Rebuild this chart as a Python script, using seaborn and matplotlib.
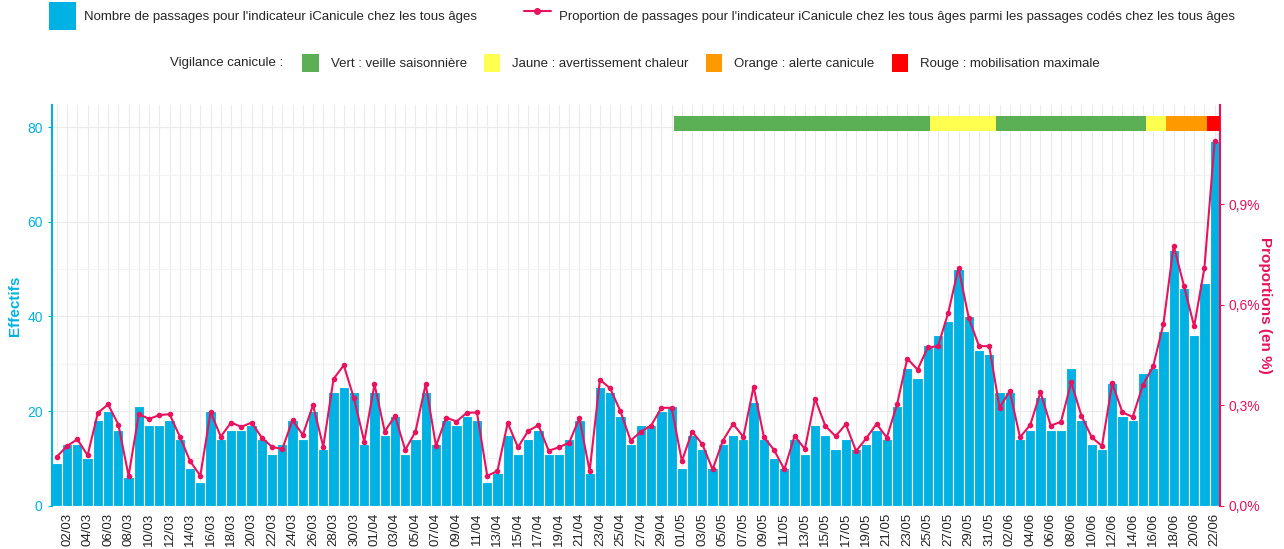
import numpy as np
import pandas as pd
import seaborn as sns
import matplotlib
matplotlib.use("Agg")
import matplotlib.pyplot as plt
from matplotlib.patches import Patch
from matplotlib.lines import Line2D
from matplotlib.ticker import FuncFormatter, MultipleLocator

# --- data
dates = pd.date_range("2025-03-01", "2025-06-22", freq="D")

passages = [
    # mars
    9, 13, 13, 10, 18, 20, 16, 6, 21, 17, 17, 18, 14, 8, 5, 20, 14, 16, 16, 17,
    14, 11, 13, 18, 14, 20, 12, 24, 25, 24, 13,
    # avril
    24, 15, 19, 11, 14, 24, 13, 18, 17, 19, 18, 5, 7, 15, 11, 14, 16, 11, 11, 14,
    18, 7, 25, 24, 19, 13, 17, 17, 20, 21,
    # mai
    8, 15, 12, 8, 13, 15, 14, 22, 14, 10, 8, 14, 11, 17, 15, 12, 14, 12, 13, 16,
    14, 21, 29, 27, 34, 36, 39, 50, 40, 33, 32,
    # juin
    24, 24, 14, 16, 23, 16, 16, 29, 18, 13, 12, 26, 19, 18, 28, 29, 37, 54, 46, 36,
    47, 77,
]

proportions = [
    # mars
    0.146, 0.178, 0.198, 0.150, 0.277, 0.302, 0.242, 0.089, 0.273, 0.259, 0.270,
    0.273, 0.206, 0.133, 0.089, 0.279, 0.206, 0.248, 0.235, 0.248, 0.203, 0.175,
    0.169, 0.255, 0.211, 0.300, 0.176, 0.378, 0.419, 0.320, 0.191,
    # avril
    0.362, 0.221, 0.268, 0.166, 0.221, 0.363, 0.178, 0.263, 0.251, 0.277, 0.278,
    0.089, 0.103, 0.247, 0.174, 0.223, 0.240, 0.164, 0.174, 0.188, 0.261, 0.103,
    0.376, 0.350, 0.282, 0.194, 0.221, 0.239, 0.292, 0.292,
    # mai
    0.133, 0.221, 0.183, 0.108, 0.194, 0.244, 0.205, 0.355, 0.205, 0.166, 0.108,
    0.208, 0.169, 0.319, 0.238, 0.207, 0.243, 0.163, 0.201, 0.244, 0.203, 0.302,
    0.439, 0.406, 0.472, 0.476, 0.576, 0.710, 0.560, 0.476, 0.476,
    # juin
    0.292, 0.342, 0.204, 0.241, 0.338, 0.239, 0.250, 0.368, 0.268, 0.204, 0.178,
    0.365, 0.278, 0.265, 0.360, 0.416, 0.543, 0.776, 0.656, 0.535, 0.710, 1.087,
]

# vigilance canicule : debut de chaque periode (la derniere court jusqu'a la fin)
vig_debut = ["2025-04-30 06:00", "2025-05-25 06:00", "2025-05-31 16:00",
             "2025-06-15 06:00", "2025-06-17 06:00", "2025-06-21 06:00"]
vig_fin = "2025-06-22 12:00"
vig_niveau = ["Vert", "Jaune", "Vert", "Jaune", "Orange", "Rouge"]

vig_couleurs = {"Vert": "#5BB055", "Jaune": "#FFFF4F",
                "Orange": "#FF9900", "Rouge": "#FF0000"}
vig_labels = {"Vert": "Vert : veille saisonnière",
              "Jaune": "Jaune : avertissement chaleur",
              "Orange": "Orange : alerte canicule",
              "Rouge": "Rouge : mobilisation maximale"}

BLEU = "#00B2E3"
ROSE = "#E8125E"
GRILLE = "#EBEBEB"

df = pd.DataFrame({"date": dates, "nb": passages, "prop": proportions})
df["jour"] = df["date"].dt.strftime("%d/%m")
df["pos"] = np.arange(len(df))
n = len(df)

sns.set_style("white")
plt.rcParams["font.family"] = ["Liberation Sans", "DejaVu Sans"]

fig = plt.figure(figsize=(12.84, 5.49), dpi=100)
ax = fig.add_axes([0.0403, 0.079, 0.9097, 0.7297])

sns.barplot(data=df, x="jour", y="nb", color=BLEU, saturation=1,
            edgecolor="white", linewidth=0.8, width=1.0, ax=ax, zorder=2)

ymax = max(passages) * 1.1
pmax = max(proportions) * 1.1
ax.set_ylim(0, ymax)
ax.set_xlim(-0.5, n - 0.5)

ax2 = ax.twinx()
sns.lineplot(data=df, x="pos", y="prop", color=ROSE, linewidth=1.5,
             marker="o", markersize=4, markeredgewidth=0, ax=ax2, zorder=4)
ax2.set_ylim(0, pmax)
ax2.set_xlim(-0.5, n - 0.5)

# bandeau vigilance
bornes = [(pd.Timestamp(d) - dates[0]) / pd.Timedelta(days=1) for d in vig_debut]
bornes.append((pd.Timestamp(vig_fin) - dates[0]) / pd.Timedelta(days=1))
for i, niv in enumerate(vig_niveau):
    ax2.axvspan(bornes[i], min(bornes[i + 1], n - 0.5), ymin=0.935, ymax=0.973,
                color=vig_couleurs[niv], lw=0, zorder=3)

# axe x
ax.set_xticks(range(1, n, 2))
ax.set_xticklabels(df["jour"].iloc[1::2], rotation=90, fontsize=9.5, color="#222222")
ax.set_xticks(range(n), minor=True)
ax.tick_params(axis="x", which="major", length=3, color="#555555", pad=2)
ax.tick_params(axis="x", which="minor", length=0)
ax.set_xlabel("")

# axes y
ax.yaxis.set_major_locator(MultipleLocator(20))
ax.yaxis.set_minor_locator(MultipleLocator(10))
ax.tick_params(axis="y", which="major", colors=BLEU, labelsize=10, length=3)
ax.tick_params(axis="y", which="minor", length=0)
ax.set_ylabel("Effectifs", color=BLEU, fontsize=11, fontweight="bold", labelpad=4)

ax2.set_yticks([0, 0.3, 0.6, 0.9])
ax2.yaxis.set_major_formatter(FuncFormatter(lambda v, p: f"{v:.1f}%".replace(".", ",")))
ax2.tick_params(axis="y", colors=ROSE, labelsize=10, length=3)
ax2.set_ylabel("Proportions (en %)", color=ROSE, fontsize=11, fontweight="bold",
               rotation=270, labelpad=8)

ax.grid(True, which="major", axis="both", color=GRILLE, lw=0.8, zorder=0)
ax.grid(True, which="minor", axis="x", color=GRILLE, lw=0.8, zorder=0)
ax.grid(True, which="minor", axis="y", color="#F3F3F3", lw=0.8, zorder=0)
ax.set_axisbelow(True)
ax2.grid(False)

for a in (ax, ax2):
    for s in a.spines.values():
        s.set_visible(False)
ax.spines["left"].set_visible(True)
ax.spines["left"].set_color(BLEU)
ax.spines["left"].set_linewidth(1.5)
ax2.spines["right"].set_visible(True)
ax2.spines["right"].set_color(ROSE)
ax2.spines["right"].set_linewidth(1.5)

# legendes
h1 = [Patch(facecolor=BLEU, edgecolor="none"),
      Line2D([], [], color=ROSE, lw=1.5, marker="o", markersize=4)]
l1 = ["Nombre de passages pour l'indicateur iCanicule chez les tous âges",
      "Proportion de passages pour l'indicateur iCanicule chez les tous âges parmi les passages codés chez les tous âges"]
fig.legend(h1, l1, loc="center", bbox_to_anchor=(0.5, 0.971), ncol=2,
           frameon=False, fontsize=9.5, handlelength=2.0, handleheight=2.9,
           handletextpad=0.6, columnspacing=3.6)

niveaux = ["Vert", "Jaune", "Orange", "Rouge"]
h2 = [Patch(facecolor=vig_couleurs[v], edgecolor="none") for v in niveaux]
l2 = [vig_labels[v] for v in niveaux]
fig.legend(h2, l2, loc="center", bbox_to_anchor=(0.546, 0.885), ncol=4,
           frameon=False, fontsize=9.5, handlelength=1.25, handleheight=1.75,
           handletextpad=0.9, columnspacing=1.3)
fig.text(0.2204, 0.885, "Vigilance canicule :", ha="right", va="center", fontsize=9.5)

fig.savefig("out.png", dpi=100)
